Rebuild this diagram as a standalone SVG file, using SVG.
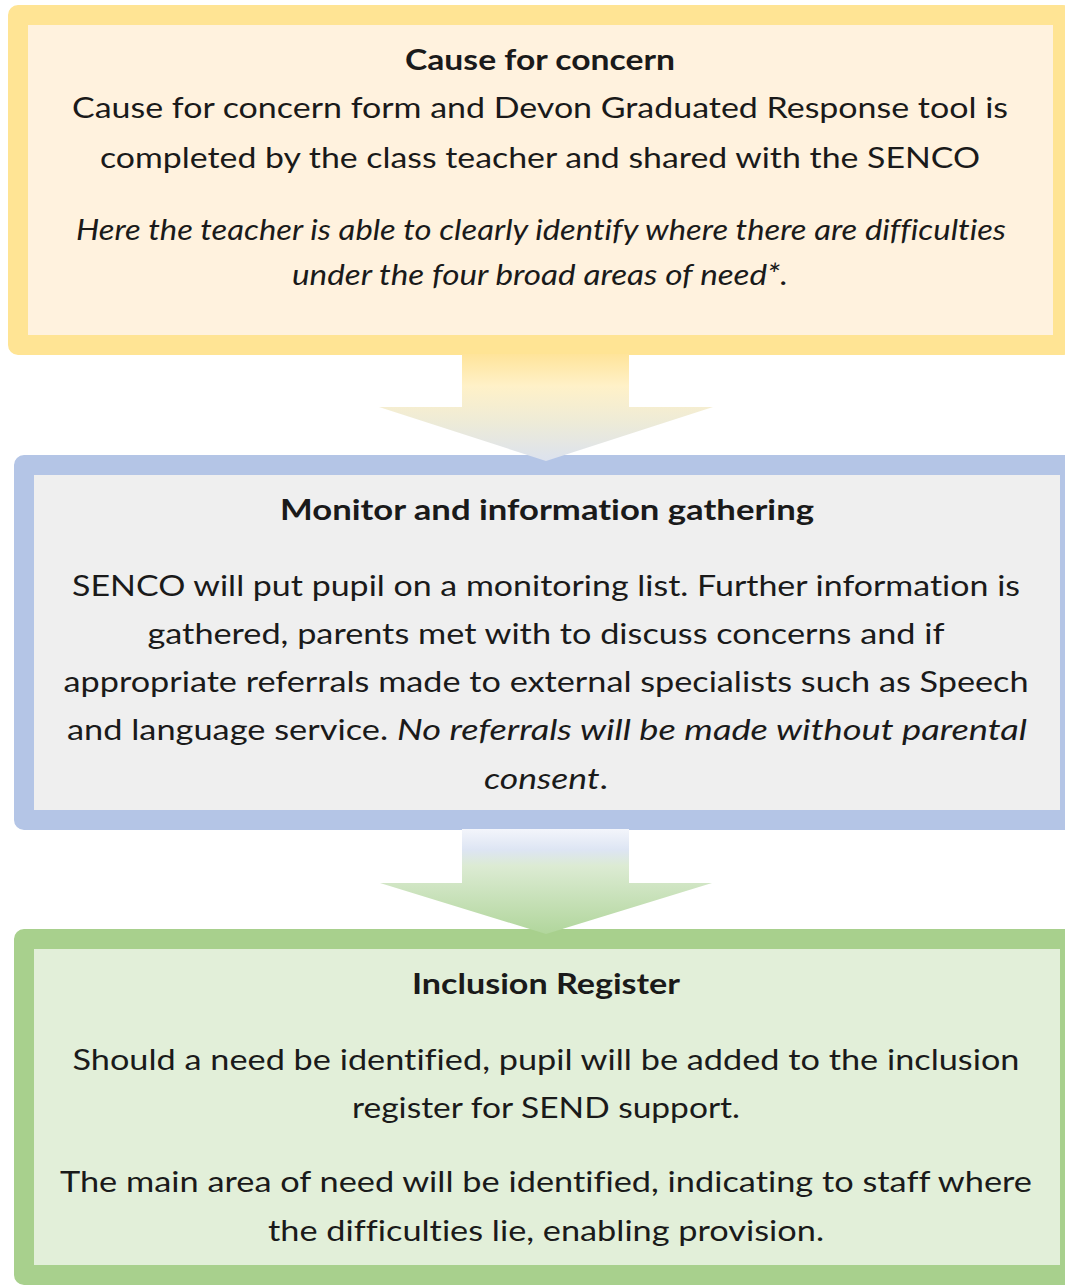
<svg xmlns="http://www.w3.org/2000/svg" width="1065" height="1285" viewBox="0 0 1065 1285">
<defs>
<style>
.box{stroke-width:20;stroke-linejoin:round}
.t{font-family:Lato,"Open Sans","Liberation Sans",sans-serif;font-size:28px;fill:#1a1a1a;font-variant-ligatures:none;font-feature-settings:"liga" 0,"clig" 0}
.c{text-anchor:middle}
.b{font-weight:bold}
.i{font-style:italic}
</style>
<linearGradient id="g1" x1="0" y1="0" x2="0" y2="1">
<stop offset="0" stop-color="#FFE49A"/>
<stop offset="0.3" stop-color="#FFF1C8"/>
<stop offset="0.65" stop-color="#EDEBD8"/>
<stop offset="1" stop-color="#DCE2EE"/>
</linearGradient>
<linearGradient id="g2" x1="0" y1="0" x2="0" y2="1">
<stop offset="0" stop-color="#F3F5FB"/>
<stop offset="0.2" stop-color="#DDE5F3"/>
<stop offset="0.35" stop-color="#DCEBD3"/>
<stop offset="1" stop-color="#B1D69C"/>
</linearGradient>
</defs>

<g id="node-cause">
<rect class="box" x="18" y="15" width="1045" height="330" fill="#FFF2DE" stroke="#FFE494"/>
<text class="t c b" x="540" y="70" textLength="270" lengthAdjust="spacingAndGlyphs">Cause for concern</text>
<text class="t c" x="540" y="118" textLength="936" lengthAdjust="spacingAndGlyphs">Cause for concern form and Devon Graduated Response tool is</text>
<text class="t c" x="540" y="168" textLength="880" lengthAdjust="spacingAndGlyphs">completed by the class teacher and shared with the SENCO</text>
<text class="t c i" x="541" y="240" textLength="930" lengthAdjust="spacingAndGlyphs">Here the teacher is able to clearly identify where there are difficulties</text>
<text class="t c i" x="540" y="285" textLength="496" lengthAdjust="spacingAndGlyphs">under the four broad areas of need*.</text>
</g>

<g id="node-monitor">
<rect class="box" x="24" y="465" width="1046" height="355" fill="#EFEFEF" stroke="#B4C5E6"/>
<text class="t c b" x="547" y="520" textLength="534" lengthAdjust="spacingAndGlyphs">Monitor and information gathering</text>
<text class="t c" x="546" y="596" textLength="948" lengthAdjust="spacingAndGlyphs">SENCO will put pupil on a monitoring list. Further information is</text>
<text class="t c" x="546" y="644" textLength="797" lengthAdjust="spacingAndGlyphs">gathered, parents met with to discuss concerns and if</text>
<text class="t c" x="546" y="692" textLength="965" lengthAdjust="spacingAndGlyphs">appropriate referrals made to external specialists such as Speech</text>
<text class="t" x="67" y="740" textLength="321" lengthAdjust="spacingAndGlyphs">and language service.</text>
<text class="t i" x="397" y="740" textLength="630" lengthAdjust="spacingAndGlyphs">No referrals will be made without parental</text>
<text class="t" x="484" y="789" textLength="124" lengthAdjust="spacingAndGlyphs"><tspan class="i">consent</tspan>.</text>
</g>

<g id="node-inclusion">
<rect class="box" x="24" y="939" width="1046" height="336" fill="#E2EFD9" stroke="#A8D08D"/>
<text class="t c b" x="546" y="994" textLength="268" lengthAdjust="spacingAndGlyphs">Inclusion Register</text>
<text class="t c" x="546" y="1070" textLength="947" lengthAdjust="spacingAndGlyphs">Should a need be identified, pupil will be added to the inclusion</text>
<text class="t c" x="546" y="1118" textLength="388" lengthAdjust="spacingAndGlyphs">register for SEND support.</text>
<text class="t c" x="546" y="1192" textLength="972" lengthAdjust="spacingAndGlyphs">The main area of need will be identified, indicating to staff where</text>
<text class="t c" x="546" y="1241" textLength="556" lengthAdjust="spacingAndGlyphs">the difficulties lie, enabling provision.</text>
</g>

<g id="connectors">
<polygon id="arrow-1" points="462,354 629,354 629,407 713,407 546,461 379,407 462,407" fill="url(#g1)"/>
<polygon id="arrow-2" points="462,829 629,829 629,883 712,883 546,934 380,883 462,883" fill="url(#g2)"/>
</g>
</svg>
